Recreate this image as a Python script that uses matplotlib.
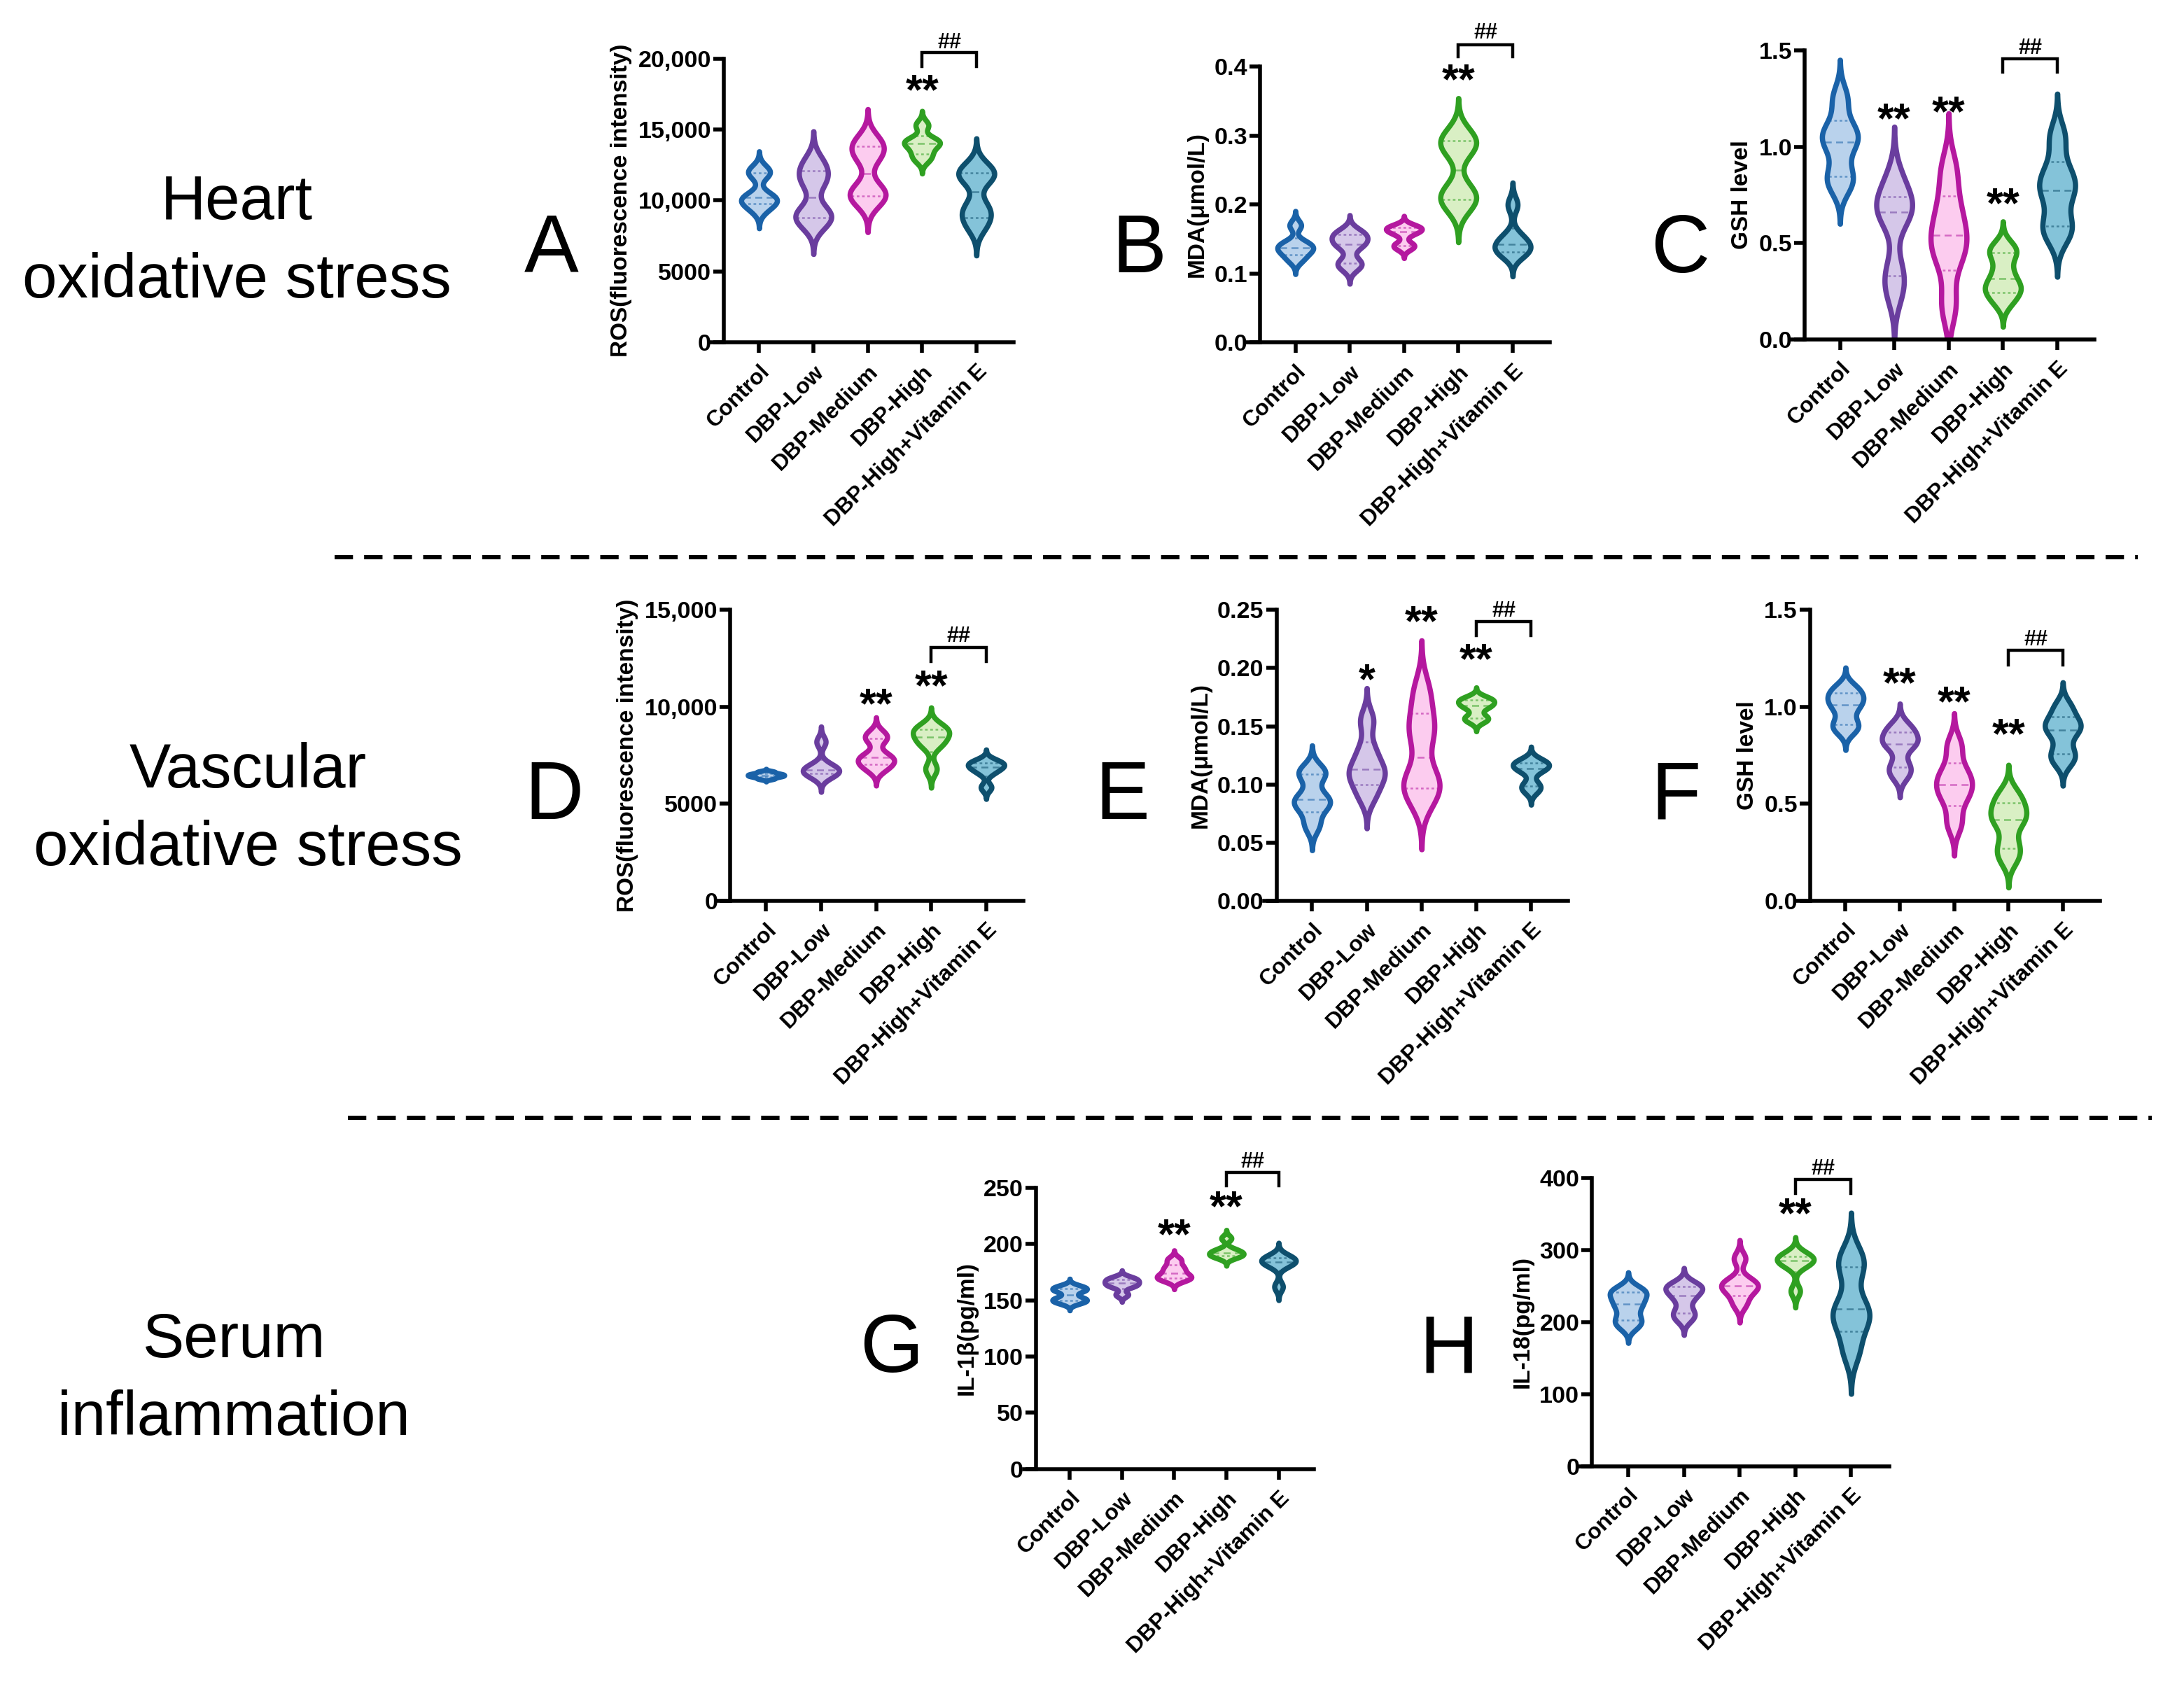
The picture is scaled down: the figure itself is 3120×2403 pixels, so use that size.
import numpy as np
import matplotlib
matplotlib.use("Agg")
import matplotlib.pyplot as plt
from matplotlib.mlab import GaussianKDE
from matplotlib.lines import Line2D

# ---------------- data ----------------
groups = ["Control", "DBP-Low", "DBP-Medium", "DBP-High", "DBP-High+Vitamin E"]

heart_ros = [
    [9400, 9900, 10100, 10300, 11900, 12100],
    [8400, 8900, 9200, 11200, 11900, 12700],
    [10000, 10400, 10800, 13000, 13700, 14200],
    [12900, 13400, 13900, 14100, 14300, 15300],
    [8200, 9000, 9600, 11600, 11800, 12300],
]
heart_mda = [
    [0.12, 0.13, 0.135, 0.14, 0.145, 0.17],
    [0.11, 0.117, 0.14, 0.146, 0.155, 0.16],
    [0.138, 0.142, 0.158, 0.163, 0.166, 0.168],
    [0.20, 0.21, 0.22, 0.28, 0.29, 0.30],
    [0.128, 0.132, 0.14, 0.145, 0.155, 0.20],
]
heart_gsh = [
    [0.80, 0.86, 1.00, 1.05, 1.10, 1.25],
    [0.25, 0.36, 0.63, 0.69, 0.71, 0.83],
    [0.18, 0.42, 0.50, 0.58, 0.70, 0.88],
    [0.20, 0.26, 0.28, 0.35, 0.44, 0.48],
    [0.55, 0.60, 0.75, 0.80, 0.88, 1.05],
]
vasc_ros = [
    [6300, 6400, 6450, 6500, 6550, 6650],
    [6400, 6600, 6700, 6800, 7000, 8200],
    [6800, 7100, 7300, 7500, 8300, 8600],
    [6800, 8000, 8300, 8600, 8800, 9000],
    [5850, 6600, 6850, 6950, 7100, 7200],
]
vasc_mda = [
    [0.065, 0.08, 0.085, 0.09, 0.108, 0.112],
    [0.09, 0.103, 0.11, 0.116, 0.13, 0.155],
    [0.088, 0.10, 0.106, 0.14, 0.155, 0.18],
    [0.155, 0.158, 0.166, 0.169, 0.172, 0.174],
    [0.095, 0.10, 0.112, 0.115, 0.118, 0.12],
]
vasc_gsh = [
    [0.88, 0.92, 0.99, 1.03, 1.06, 1.10],
    [0.65, 0.70, 0.80, 0.82, 0.86, 0.90],
    [0.40, 0.52, 0.58, 0.62, 0.68, 0.80],
    [0.22, 0.29, 0.40, 0.44, 0.49, 0.55],
    [0.72, 0.77, 0.86, 0.90, 0.93, 1.00],
]
serum_il1b = [
    [148, 150, 152, 158, 160, 162],
    [155, 162, 164, 166, 168, 170],
    [168, 170, 172, 176, 180, 186],
    [188, 190, 191, 193, 195, 205],
    [162, 181, 183, 185, 187, 189],
]
serum_il18 = [
    [195, 205, 220, 230, 240, 245],
    [205, 215, 232, 242, 248, 252],
    [225, 240, 248, 252, 258, 288],
    [243, 278, 283, 287, 290, 295],
    [160, 196, 210, 226, 272, 292],
]

ylabels = ["ROS(fluorescence intensity)", "MDA(\u03bcmol/L)", "GSH level",
           "ROS(fluorescence intensity)", "MDA(\u03bcmol/L)", "GSH level",
           "IL-1\u03b2(pg/ml)", "IL-18(pg/ml)"]
yticks_list = [
    [0, 5000, 10000, 15000, 20000],
    [0.0, 0.1, 0.2, 0.3, 0.4],
    [0.0, 0.5, 1.0, 1.5],
    [0, 5000, 10000, 15000],
    [0.00, 0.05, 0.10, 0.15, 0.20, 0.25],
    [0.0, 0.5, 1.0, 1.5],
    [0, 50, 100, 150, 200, 250],
    [0, 100, 200, 300, 400],
]
yticklabels_list = [
    ["0", "5000", "10,000", "15,000", "20,000"],
    ["0.0", "0.1", "0.2", "0.3", "0.4"],
    ["0.0", "0.5", "1.0", "1.5"],
    ["0", "5000", "10,000", "15,000"],
    ["0.00", "0.05", "0.10", "0.15", "0.20", "0.25"],
    ["0.0", "0.5", "1.0", "1.5"],
    ["0", "50", "100", "150", "200", "250"],
    ["0", "100", "200", "300", "400"],
]
# significance marks: (group index, mark, height)
stars_list = [
    [(3, "**", 17600)],
    [(3, "**", 0.377)],
    [(1, "**", 1.13), (2, "**", 1.167), (3, "**", 0.69)],
    [(2, "**", 9990), (3, "**", 10935)],
    [(1, "*", 0.188), (2, "**", 0.238), (3, "**", 0.205)],
    [(1, "**", 1.109), (2, "**", 1.013), (3, "**", 0.844)],
    [(2, "**", 205.9), (3, "**", 230.9)],
    [(3, "**", 346.6)],
]
# ## bracket between DBP-High and Vitamin E: (bar height, leg bottom, text height)
brackets = [
    (20400, 19440, 21100),
    (0.432, 0.415, 0.449),
    (1.454, 1.385, 1.51),
    (13060, 12345, 13640),
    (0.240, 0.228, 0.249),
    (1.291, 1.217, 1.346),
    (263.8, 251.5, 272.9),
    (397.7, 378.6, 412.8),
]
panel_data = [heart_ros, heart_mda, heart_gsh, vasc_ros, vasc_mda, vasc_gsh,
              serum_il1b, serum_il18]
panel_letters = ["A", "B", "C", "D", "E", "F", "G", "H"]
row_titles = ["Heart\noxidative stress", "Vascular\noxidative stress",
              "Serum\ninflammation"]

# ---------------- style ----------------
edge_colors = ["#1a62a8", "#6a3d9e", "#b5189f", "#2fa021", "#0e4f6d"]
fill_colors = ["#b9d2ec", "#d5c7e9", "#fcccef", "#d9efc4", "#84c3d9"]

FONT = "Liberation Sans"
plt.rcParams["font.family"] = [FONT, "DejaVu Sans"]

W, H = 1568.0, 1208.0  # reference coordinate frame (shrunk px)
# per panel: x of Control tick, category spacing, y of top tick, y of zero
layout = [
    (545, 39.0, 42, 246),
    (930, 39.0, 48, 246),
    (1321, 39.0, 36, 244),
    (550, 39.5, 438, 647),
    (942, 39.3, 438, 647),
    (1325, 39.0, 438, 647),
    (768, 37.5, 853, 1055),
    (1169, 40.0, 846, 1053),
]
letter_pos = [(396, 180), (818, 180), (1206, 180), (398, 573), (806, 573),
              (1203, 573), (640, 970), (1040, 970)]
row_pos = [(170, 174), (178, 582), (168, 991)]

XMIN, XMAX, SPINE_X = -0.88, 4.68, -0.65

fig = plt.figure(figsize=(15.6, 12.015), dpi=200)


def draw_violins(ax, data, bw=0.42, ext=2.9, width=0.66):
    stats = []
    for d in data:
        d = np.asarray(d, float)
        kde = GaussianKDE(d, bw_method=bw)
        h = bw * d.std(ddof=1)
        coords = np.linspace(d.min() - ext * h, d.max() + ext * h, 400)
        vals = kde.evaluate(coords)
        stats.append(dict(coords=coords, vals=vals, mean=d.mean(),
                          median=np.median(d), min=coords[0], max=coords[-1]))
    parts = ax.violin(stats, positions=np.arange(len(data)), widths=width,
                      showmeans=False, showextrema=False, showmedians=False)
    for i, body in enumerate(parts["bodies"]):
        body.set_facecolor(fill_colors[i])
        body.set_edgecolor(edge_colors[i])
        body.set_linewidth(2.7)
        body.set_alpha(1)
        body.set_zorder(2)
        body.set_joinstyle("round")
        q1, med, q3 = np.percentile(np.asarray(data[i], float), [25, 50, 75],
                                    method="weibull")
        for q, ls in ((q1, (0, (1.5, 1.5))), (med, (0, (4, 2.5))),
                      (q3, (0, (1.5, 1.5)))):
            ln, = ax.plot([i - 0.5, i + 0.5], [q, q], color=edge_colors[i],
                          lw=0.9, ls=ls, alpha=0.55, zorder=2.5)
            ln.set_clip_path(body.get_paths()[0], body.get_transform())


for k in range(8):
    cx, unit, ytop, yzero = layout[k]
    left_px = cx + XMIN * unit
    width_px = (XMAX - XMIN) * unit
    ax = fig.add_axes([left_px / W, 1 - yzero / H, width_px / W,
                       (yzero - ytop) / H])
    yt = yticks_list[k]
    ymax = yt[-1]
    draw_violins(ax, panel_data[k])
    ax.set_xlim(XMIN, XMAX)
    ax.set_ylim(0, ymax)
    for s in ("top", "right"):
        ax.spines[s].set_visible(False)
    ax.spines["left"].set_position(("data", SPINE_X))
    ax.spines["left"].set_bounds(0, ymax)
    for s in ("left", "bottom"):
        ax.spines[s].set_linewidth(2.0)
        ax.spines[s].set_capstyle("projecting")
    ax.set_yticks(yt)
    ax.set_yticklabels(yticklabels_list[k], fontsize=12.3, fontweight="bold")
    ax.set_xticks(range(5))
    ax.set_xticklabels(groups, rotation=45, ha="right", rotation_mode="anchor",
                       fontsize=11.5, fontweight="bold")
    ax.tick_params(axis="both", width=2.0, length=5.5, direction="out")
    ax.tick_params(axis="y", pad=1.0)
    ax.tick_params(axis="x", pad=4)
    ax.set_ylabel(ylabels[k], fontsize=12, fontweight="bold", labelpad=3)
    ax.patch.set_visible(False)
    for gi, mark, yy in stars_list[k]:
        ax.text(gi, yy, mark, ha="center", va="center", fontsize=22,
                fontweight="bold", clip_on=False)
    bar_y, leg_y, txt_y = brackets[k]
    ax.plot([3, 3, 4, 4], [leg_y, bar_y, bar_y, leg_y], color="black",
            lw=1.6, clip_on=False, solid_joinstyle="miter")
    ax.text(3.5, txt_y, "##", ha="center", va="center", fontsize=11,
            fontweight="bold", clip_on=False)

for (lx, ly), letter in zip(letter_pos, panel_letters):
    fig.text(lx / W, 1 - ly / H, letter, ha="center", va="center",
             fontsize=42)
for (rx, ry), title in zip(row_pos, row_titles):
    fig.text(rx / W, 1 - ry / H, title, ha="center", va="center",
             fontsize=32, linespacing=1.42)

for y, x0, x1 in ((400, 240, 1535), (803, 250, 1545)):
    fig.add_artist(Line2D([x0 / W, x1 / W], [1 - y / H, 1 - y / H],
                          transform=fig.transFigure, color="black", lw=2.2,
                          linestyle=(0, (4.3, 2.6))))

fig.savefig("out.png", dpi=200, facecolor="white")
